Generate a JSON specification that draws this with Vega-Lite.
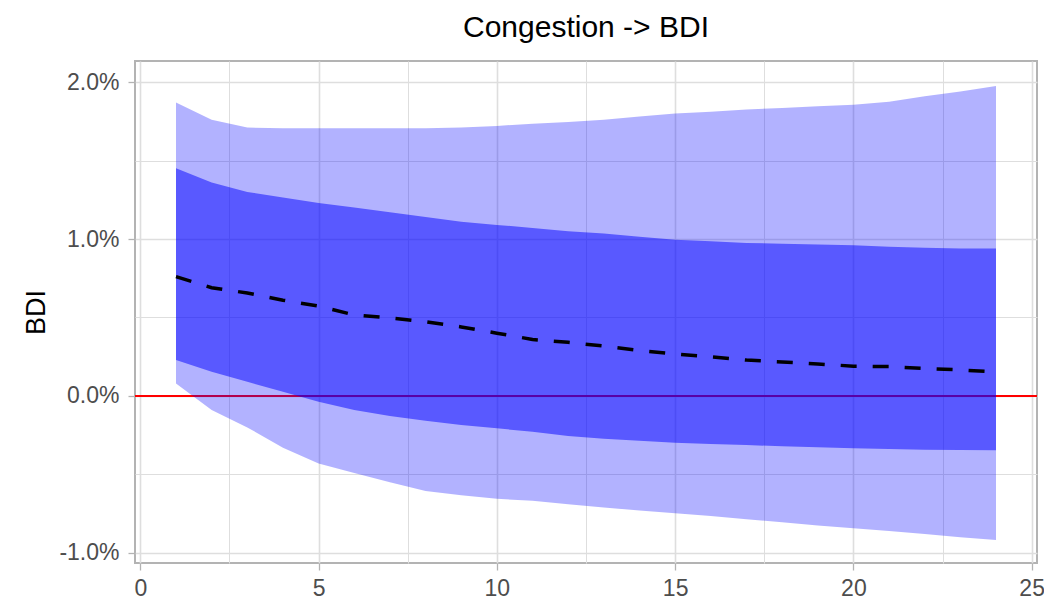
{
  "$schema": "https://vega.github.io/schema/vega-lite/v6.json",
  "width": 902,
  "height": 502,
  "autosize": {"type": "none"},
  "padding": {"left": 135, "top": 61, "right": 7, "bottom": 36},
  "background": "white",
  "config": {
    "font": "Liberation Sans",
    "view": {"stroke": "#B3B3B3", "strokeWidth": 2},
    "axis": {
      "domain": false,
      "labelFont": "Liberation Sans",
      "labelFontSize": 23,
      "labelColor": "#4D4D4D",
      "tickColor": "#B3B3B3",
      "tickWidth": 1.3,
      "tickSize": 7,
      "titleFont": "Liberation Sans",
      "titleFontWeight": "normal",
      "titleColor": "#000000"
    }
  },
  "title": {
    "text": "Congestion -> BDI",
    "font": "Liberation Sans",
    "fontSize": 30,
    "fontWeight": "normal",
    "color": "#000000",
    "anchor": "middle",
    "offset": 18
  },
  "data": {
    "values": [
      {"h": 1, "lo90": 0.08, "hi90": 1.87, "lo68": 0.23, "hi68": 1.45, "med": 0.76},
      {"h": 2, "lo90": -0.09, "hi90": 1.76, "lo68": 0.155, "hi68": 1.36, "med": 0.69},
      {"h": 3, "lo90": -0.2, "hi90": 1.71, "lo68": 0.09, "hi68": 1.3, "med": 0.656},
      {"h": 4, "lo90": -0.33, "hi90": 1.705, "lo68": 0.027, "hi68": 1.265, "med": 0.61},
      {"h": 5, "lo90": -0.43, "hi90": 1.705, "lo68": -0.036, "hi68": 1.23, "med": 0.573},
      {"h": 6, "lo90": -0.49, "hi90": 1.705, "lo68": -0.09, "hi68": 1.2, "med": 0.516},
      {"h": 7, "lo90": -0.55, "hi90": 1.705, "lo68": -0.127, "hi68": 1.17, "med": 0.497},
      {"h": 8, "lo90": -0.605, "hi90": 1.705, "lo68": -0.157, "hi68": 1.14, "med": 0.473},
      {"h": 9, "lo90": -0.632, "hi90": 1.71, "lo68": -0.185, "hi68": 1.11, "med": 0.44},
      {"h": 10, "lo90": -0.655, "hi90": 1.72, "lo68": -0.206, "hi68": 1.09, "med": 0.4},
      {"h": 11, "lo90": -0.668, "hi90": 1.735, "lo68": -0.228, "hi68": 1.07, "med": 0.36},
      {"h": 12, "lo90": -0.69, "hi90": 1.745, "lo68": -0.255, "hi68": 1.05, "med": 0.342},
      {"h": 13, "lo90": -0.71, "hi90": 1.76, "lo68": -0.272, "hi68": 1.035, "med": 0.318},
      {"h": 14, "lo90": -0.73, "hi90": 1.78, "lo68": -0.285, "hi68": 1.015, "med": 0.29},
      {"h": 15, "lo90": -0.747, "hi90": 1.8, "lo68": -0.298, "hi68": 0.995, "med": 0.268},
      {"h": 16, "lo90": -0.765, "hi90": 1.81, "lo68": -0.306, "hi68": 0.985, "med": 0.25},
      {"h": 17, "lo90": -0.785, "hi90": 1.825, "lo68": -0.313, "hi68": 0.975, "med": 0.229},
      {"h": 18, "lo90": -0.805, "hi90": 1.835, "lo68": -0.32, "hi68": 0.97, "med": 0.217},
      {"h": 19, "lo90": -0.825, "hi90": 1.845, "lo68": -0.327, "hi68": 0.965, "med": 0.204},
      {"h": 20, "lo90": -0.843, "hi90": 1.855, "lo68": -0.333, "hi68": 0.96, "med": 0.19},
      {"h": 21, "lo90": -0.86, "hi90": 1.875, "lo68": -0.338, "hi68": 0.95, "med": 0.187},
      {"h": 22, "lo90": -0.88, "hi90": 1.91, "lo68": -0.342, "hi68": 0.945, "med": 0.176},
      {"h": 23, "lo90": -0.9, "hi90": 1.94, "lo68": -0.344, "hi68": 0.94, "med": 0.166},
      {"h": 24, "lo90": -0.917, "hi90": 1.975, "lo68": -0.345, "hi68": 0.94, "med": 0.153}
    ]
  },
  "encoding": {
    "x": {
      "field": "h",
      "type": "quantitative",
      "scale": {"domain": [-0.15, 25.15], "nice": false, "zero": false},
      "axis": {
        "title": null,
        "values": [0, 2.5, 5, 7.5, 10, 12.5, 15, 17.5, 20, 22.5, 25],
        "labelExpr": "datum.value % 5 == 0 ? format(datum.value, 'd') : ''",
        "labelPadding": 7,
        "labelFlush": false,
        "labelOverlap": false,
        "grid": true,
        "gridColor": "#DEDEDE",
        "gridWidth": {"condition": {"test": "datum.value % 5 != 0", "value": 1.0}, "value": 1.6},
        "tickOpacity": {"condition": {"test": "datum.value % 5 != 0", "value": 0}, "value": 1}
      }
    }
  },
  "layer": [
    {
      "mark": {"type": "rule", "color": "#FF0000", "strokeWidth": 1.8},
      "encoding": {
        "x": {"value": 0},
        "x2": {"value": 902},
        "y": {
          "datum": 0,
          "type": "quantitative",
          "scale": {"domain": [-1.064, 2.134], "nice": false, "zero": false},
          "axis": {
            "title": "BDI",
            "titleFontSize": 27,
            "titleX": -91,
            "titleY": 251,
            "titleAngle": -90,
            "titleAlign": "center",
            "titleBaseline": "alphabetic",
            "values": [-1, -0.5, 0, 0.5, 1, 1.5, 2],
            "labelExpr": "datum.value % 1 == 0 ? (datum.value < 0 ? '-' : '') + format(abs(datum.value), '.1f') + '%' : ''",
            "labelPadding": 9,
            "labelFlush": false,
            "labelOverlap": false,
            "grid": true,
            "gridColor": "#DEDEDE",
            "gridWidth": {"condition": {"test": "datum.value % 1 != 0", "value": 1.0}, "value": 1.6},
            "tickOpacity": {"condition": {"test": "datum.value % 1 != 0", "value": 0}, "value": 1}
          }
        }
      }
    },
    {
      "mark": {"type": "area", "color": "#0000FF", "opacity": 0.3},
      "encoding": {
        "y": {"field": "lo90", "type": "quantitative"},
        "y2": {"field": "hi90"}
      }
    },
    {
      "mark": {"type": "area", "color": "#0000FF", "opacity": 0.5},
      "encoding": {
        "y": {"field": "lo68", "type": "quantitative"},
        "y2": {"field": "hi68"}
      }
    },
    {
      "mark": {"type": "line", "color": "#000000", "strokeWidth": 3.5, "strokeDash": [16, 16], "strokeCap": "butt"},
      "encoding": {
        "y": {"field": "med", "type": "quantitative"}
      }
    }
  ]
}
